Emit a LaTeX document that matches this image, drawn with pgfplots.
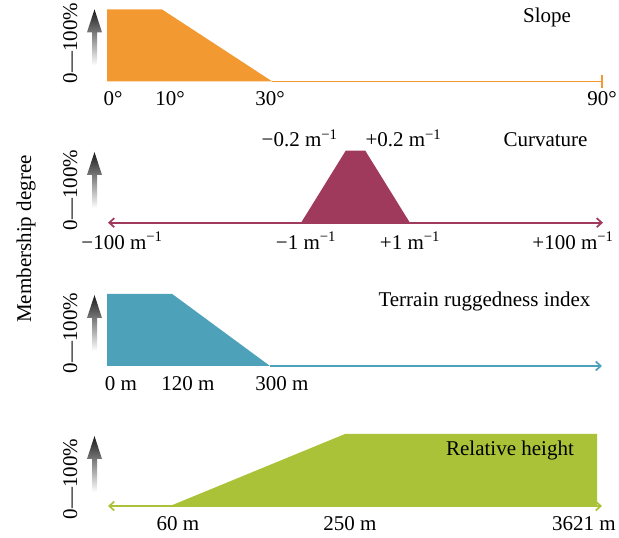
\documentclass[border=0pt]{standalone}
\usepackage{fontspec}
\setmainfont{Liberation Serif}
\usepackage{pgfplots}
\pgfplotsset{compat=1.18}
\usetikzlibrary{arrows.meta}
\definecolor{cslope}{RGB}{242,153,49}
\definecolor{ccurv}{RGB}{160,58,92}
\definecolor{ctri}{RGB}{77,161,185}
\definecolor{crh}{RGB}{169,194,56}
\pgfplotsset{panel/.style={scale only axis, height=72bp, axis lines=none, ticks=none,
  enlargelimits=false, clip=false, ymin=0, ymax=1, anchor=south west}}
\newcommand{\garrow}[1]{%
  \shade[top color=black!90, middle color=black!55, bottom color=white]
    (94.5,#1) -- (102,#1-23) -- (97,#1-23) -- (97,#1-56) -- (92,#1-56) -- (92,#1-23) -- (87,#1-23) -- cycle;}
\newcommand{\mi}{m\textsuperscript{−1}}
\tikzset{barb/.style={Straight Barb[length=5bp,width=9bp,line width=1.6bp]}}
\begin{document}
\begin{tikzpicture}[font=\fontsize{21bp}{24bp}\selectfont]
\useasboundingbox (0bp,0bp) rectangle (619bp,538bp);
% ---------- Panel 1: Slope ----------
\begin{axis}[panel, at={(107bp,456.5bp)}, width=496bp, xmin=0, xmax=90]
\addplot[draw=none, fill=cslope] coordinates {(0,0)(0,1)(10,1)(30,0)} \closedcycle;
\addplot[cslope, line width=1.7bp, -{Bar[width=13bp,line width=1.7bp]}] coordinates {(30,0)(90,0)};
\end{axis}
% ---------- Panel 2: Curvature ----------
\begin{axis}[panel, at={(108bp,315.3bp)}, width=495bp, xmin=-4.55, xmax=4.55]
\addplot[ccurv, line width=1.7bp, {Straight Barb[length=5bp,width=9bp]}-{Straight Barb[length=5bp,width=9bp]}] coordinates {(-4.55,0)(4.55,0)};
\addplot[draw=none, fill=ccurv] coordinates {(-1,0)(-0.18,1)(0.18,1)(1,0)} \closedcycle;
\end{axis}
% ---------- Panel 3: TRI ----------
\begin{axis}[panel, at={(107bp,172bp)}, width=495bp, xmin=0, xmax=911]
\addplot[draw=none, fill=ctri] coordinates {(0,0)(0,1)(120,1)(300,0)} \closedcycle;
\addplot[ctri, line width=1.7bp, -{Straight Barb[length=5bp,width=9bp]}] coordinates {(300,0)(911,0)};
\end{axis}
% ---------- Panel 4: Relative height ----------
\begin{axis}[panel, at={(108bp,32bp)}, width=494bp, xmin=108, xmax=602]
\addplot[crh, line width=1.7bp, {Straight Barb[length=5bp,width=9bp]}-{Straight Barb[length=5bp,width=9bp]}] coordinates {(108,0)(602,0)};
\addplot[draw=none, fill=crh] coordinates {(170,0)(345,1)(597,1)(597,0)} \closedcycle;
\end{axis}
\begin{scope}[x=1bp,y=1bp]
\tikzset{lb/.style={anchor=base}}
\node[lb] at (113,432) {0°};
\node[lb] at (170,432) {10°};
\node[lb] at (270,432) {30°};
\node[lb] at (602,432) {90°};
\node[lb] at (547,515) {Slope};
\node[lb] at (122,289) {−100 \mi};
\node[lb] at (306,289) {−1 \mi};
\node[lb] at (410,289) {+1 \mi};
\node[lb] at (573,289) {+100 \mi};
\node[anchor=base east] at (341,391) {−0.2 \mi};
\node[anchor=base west] at (362,391) {+0.2 \mi};
\node[lb] at (545.5,391) {Curvature};
\node[lb] at (121,148) {0 m};
\node[lb] at (188,148) {120 m};
\node[lb] at (282,148) {300 m};
\node[lb] at (484.5,231.3) {Terrain ruggedness index};
\node[lb] at (178,8) {60 m};
\node[lb] at (350,8) {250 m};
\node[lb] at (584,8) {3621 m};
\node[lb] at (510,83) {Relative height};
\foreach \yy in {495,348,205,59} {\node[lb, rotate=90] at (77,\yy) {0—100\%};}
\garrow{528.7}
\garrow{386}
\garrow{243}
\garrow{102}
\node[lb, rotate=90] at (31,299) {Membership degree};
\end{scope}
\end{tikzpicture}
\end{document}
